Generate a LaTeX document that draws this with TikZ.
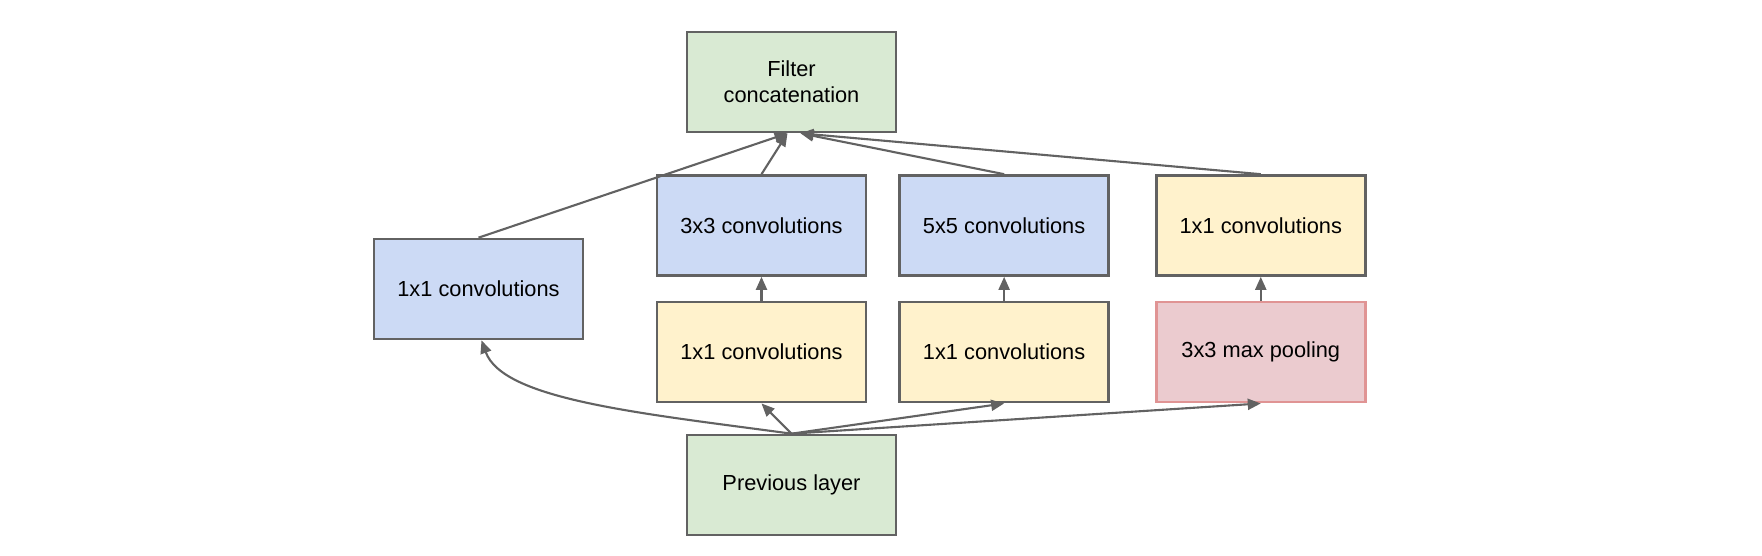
\documentclass[tikz,border=0pt]{standalone}
\usepackage{fontspec}
\setmainfont{Liberation Sans}
\usetikzlibrary{shapes,arrows.meta,positioning}

\definecolor{linegray}{HTML}{626262}
\definecolor{convblue}{HTML}{CCDAF5}
\definecolor{reduceyellow}{HTML}{FFF2CC}
\definecolor{layergreen}{HTML}{D9EAD3}
\definecolor{poolred}{HTML}{EBCBCF}
\definecolor{poolborder}{HTML}{E09494}

\begin{document}
\begin{tikzpicture}[
    node distance=0.48cm,
    >={Triangle[length=2.6mm,width=2.2mm]},
    font=\fontsize{12.4}{14.8}\selectfont,
    box/.style={rectangle, draw=linegray, line width=1.5pt, minimum width=4.18cm, minimum height=2cm, text centered},
    conv/.style={box, fill=convblue},
    reduce/.style={box, fill=reduceyellow},
    layer/.style={box, fill=layergreen, align=center},
    pool/.style={box, draw=poolborder, fill=poolred},
    flow/.style={->, draw=linegray, line width=1.2pt},
]
    \useasboundingbox (0,0) rectangle (35.24,-11.12);

    % Filter concatenation
    \node[layer] (concat) at (15.83,-1.64) {Filter\\concatenation};

    % Top row of branches
    \node[conv] (conv1) at (9.57,-5.78) {1x1 convolutions};
    \node[conv] (conv3) at (15.23,-4.51) {3x3 convolutions};
    \node[conv, right=0.62cm of conv3] (conv5) {5x5 convolutions};
    \node[reduce, right=0.9cm of conv5] (proj) {1x1 convolutions};

    % Bottom row of branches
    \node[reduce, below=of conv3] (reduce3) {1x1 convolutions};
    \node[reduce, below=of conv5] (reduce5) {1x1 convolutions};
    \node[pool, below=of proj] (maxpool) {3x3 max pooling};

    % Previous layer
    \node[layer] (prev) at (15.83,-9.70) {Previous layer};

    % Connections
    \draw[flow] (prev.north) .. controls +(-3.03,0.41) and +(0.43,-1.19) .. ([xshift=0.06cm]conv1.south);
    \draw[flow] (prev.north) -- (reduce3.south);
    \draw[flow] (prev.north) -- (reduce5.south);
    \draw[flow] (prev.north) -- (maxpool.south);
    \draw[flow] (reduce3) -- (conv3);
    \draw[flow] (reduce5) -- (conv5);
    \draw[flow] (maxpool) -- (proj);
    \draw[flow] (conv1.north) -- ([xshift=-0.08cm]concat.south);
    \draw[flow] (conv3.north) -- ([xshift=-0.08cm]concat.south);
    \draw[flow] (conv5.north) -- ([xshift=0.18cm]concat.south);
    \draw[flow] (proj.north) -- ([xshift=0.18cm]concat.south);
\end{tikzpicture}
\end{document}
